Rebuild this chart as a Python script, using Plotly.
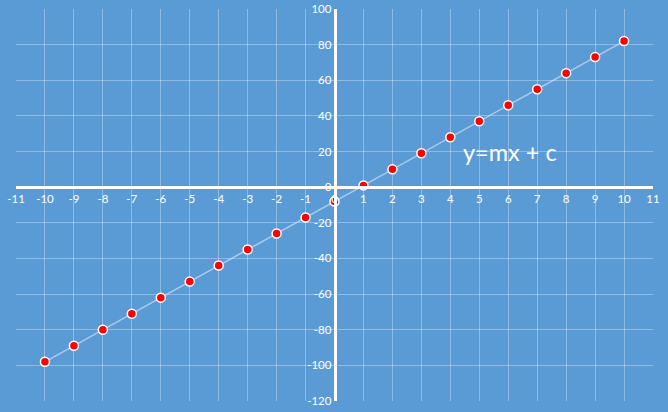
import plotly.graph_objects as go

x_values = [-10, -9, -8, -7, -6, -5, -4, -3, -2, -1, 0, 1, 2, 3, 4, 5, 6, 7, 8, 9, 10]
y_values = [-98, -89, -80, -71, -62, -53, -44, -35, -26, -17, -8, 1, 10, 19, 28, 37, 46, 55, 64, 73, 82]

x_tickvals = list(range(-11, 12))
x_ticktext = ["-11", "-10", "-9", "-8", "-7", "-6", "-5", "-4", "-3", "-2", "-1", "0",
              "1", "2", "3", "4", "5", "6", "7", "8", "9", "10", "11"]
y_tickvals = [100, 80, 60, 40, 20, 0, -20, -40, -60, -80, -100, -120]
y_ticktext = ["100", "80", "60", "40", "20", "0", "-20", "-40", "-60", "-80", "-100", "-120"]

annotation_text = "y=mx + c"

BG = "#5B9BD5"
GRID = "rgba(255,255,255,0.32)"
FONT = "Lato"

fig = go.Figure()
fig.add_trace(go.Scatter(
    x=x_values, y=y_values, mode="lines+markers",
    line=dict(color="rgba(225,235,250,0.6)", width=1.5),
    marker=dict(color="#FF0000", size=9, line=dict(color="white", width=1.5)),
    showlegend=False, hoverinfo="x+y",
))

fig.add_annotation(x=6.05, y=20, text=annotation_text, showarrow=False,
                   font=dict(family=FONT, size=23.5, color="white"))

fig.update_layout(
    width=668, height=412,
    paper_bgcolor=BG, plot_bgcolor=BG,
    margin=dict(l=16, r=15, t=9, b=11, autoexpand=False),
    font=dict(family=FONT, size=11, color="white"),
    xaxis=dict(
        range=[-11, 11], tickvals=x_tickvals, ticktext=x_ticktext,
        showgrid=True, gridcolor=GRID, gridwidth=1,
        zeroline=False, showline=True, linecolor="white", linewidth=2.5,
        anchor="free", position=120 / 220, side="bottom", ticks="",
        automargin=False,
        tickfont=dict(family=FONT, size=11.5, color="white"),
    ),
    yaxis=dict(
        range=[-120, 100], tickvals=y_tickvals, ticktext=y_ticktext,
        showgrid=True, gridcolor=GRID, gridwidth=1,
        zeroline=False, showline=True, linecolor="white", linewidth=2.5,
        anchor="free", position=0.5, side="left", ticks="",
        automargin=False,
        tickfont=dict(family=FONT, size=11.5, color="white"),
    ),
)

fig.write_html(
    "out.html",
    config={"displayModeBar": False},
    post_script="document.body.style.margin='0';document.body.style.overflow='hidden';",
)
